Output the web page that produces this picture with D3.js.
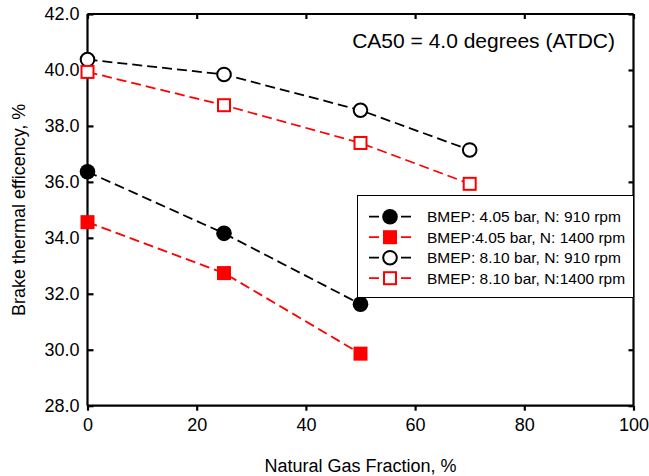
<!DOCTYPE html>
<html>
<head>
<meta charset="utf-8">
<script src="https://cdn.jsdelivr.net/npm/d3@7/dist/d3.min.js"></script>
<style>
  html, body { margin: 0; padding: 0; background: #fff; }
  svg { display: block; font-family: "Liberation Sans", Arial, sans-serif; }
</style>
</head>
<body>
<svg id="chart" width="649" height="476"></svg>
<script>
// ---- Data ----
const fractions = [0, 25, 50, 70];
const bmep405_910 = [36.36, 34.16, 31.63];
const bmep405_1400 = [34.56, 32.74, 29.86];
const bmep810_910 = [40.37, 39.84, 38.56, 37.14];
const bmep810_1400 = [39.93, 38.74, 37.39, 35.93];
const seriesNames = [
  "BMEP: 4.05 bar, N: 910 rpm",
  "BMEP:4.05 bar, N: 1400 rpm",
  "BMEP: 8.10 bar, N: 910 rpm",
  "BMEP: 8.10 bar, N:1400 rpm"
];
const xTicks = [0, 20, 40, 60, 80, 100];
const yTicks = [28, 30, 32, 34, 36, 38, 40, 42];
const titleText = "CA50 = 4.0 degrees (ATDC)";
const xTitle = "Natural Gas Fraction, %";
const yTitle = "Brake thermal efficency, %";

const series = [
  { name: seriesNames[0], values: bmep405_910, color: "#000", shape: "circle", filled: true },
  { name: seriesNames[1], values: bmep405_1400, color: "#ff0000", shape: "square", filled: true },
  { name: seriesNames[2], values: bmep810_910, color: "#000", shape: "circle", filled: false },
  { name: seriesNames[3], values: bmep810_1400, color: "#ff0000", shape: "square", filled: false }
];

// ---- Layout ----
const svg = d3.select("#chart");
const L = 87.5, R = 633.5, T = 14, B = 405.7;
const x = d3.scaleLinear().domain([0, 100]).range([L, R]);
const y = d3.scaleLinear().domain([28, 42]).range([B, T]);

const axisW = 2.2;

// Axes
const gx = svg.append("g").attr("transform", `translate(0,${B})`)
  .call(d3.axisBottom(x).tickValues(xTicks).tickSize(5).tickPadding(8).tickFormat(d3.format("d")));
const gy = svg.append("g").attr("transform", `translate(${L},0)`)
  .call(d3.axisLeft(y).tickValues(yTicks).tickSize(-6).tickPadding(10).tickFormat(d3.format(".1f")));
const gt = svg.append("g").attr("transform", `translate(0,${T})`)
  .call(d3.axisTop(x).tickValues(xTicks).tickSize(-5).tickFormat(""));
const gr = svg.append("g").attr("transform", `translate(${R},0)`)
  .call(d3.axisRight(y).tickValues(yTicks).tickSize(-5).tickFormat(""));

[gx, gy, gt, gr].forEach(g => {
  g.select(".domain").attr("stroke", "#000").attr("stroke-width", axisW);
  g.selectAll(".tick line").attr("stroke", "#000").attr("stroke-width", axisW);
  g.selectAll("text").attr("fill", "#000").style("font-size", "18px")
    .style("font-family", '"Liberation Sans", Arial, sans-serif');
});
gy.selectAll("text").attr("dx", "2");
gt.selectAll(".domain").attr("d", `M${L},0H${R}`);
gr.selectAll(".domain").attr("d", `M0,${B}V${T}`);
gx.selectAll(".domain").attr("d", `M${L},0H${R}`);
gy.selectAll(".domain").attr("d", `M0,${B}V${T}`);

// Titles
svg.append("text").attr("x", (L + R) / 2).attr("y", 472).attr("text-anchor", "middle")
  .style("font-size", "18px").text(xTitle);
svg.append("text").attr("transform", `translate(25,${(T + B) / 2}) rotate(-90)`)
  .attr("text-anchor", "middle").style("font-size", "18px").text(yTitle);
svg.append("text").attr("x", 615).attr("y", 48).attr("text-anchor", "end")
  .style("font-size", "21px").text(titleText);

// Lines and markers
const line = d3.line().x(d => x(d[0])).y(d => y(d[1]));
const rC = 7.8, sq = 14;

function drawMarker(g, cx, cy, s) {
  if (s.shape === "circle") {
    g.append("circle").attr("cx", cx).attr("cy", cy).attr("r", s.filled ? rC : rC - 1)
      .attr("fill", s.filled ? s.color : "#fff")
      .attr("stroke", s.color).attr("stroke-width", s.filled ? 0 : 2);
  } else {
    const a = s.filled ? sq : sq - 2;
    g.append("rect").attr("x", cx - a / 2).attr("y", cy - a / 2).attr("width", a).attr("height", a)
      .attr("fill", s.filled ? s.color : "#fff")
      .attr("stroke", s.color).attr("stroke-width", s.filled ? 0 : 2);
  }
}

series.forEach(s => {
  const pts = s.values.map((v, i) => [fractions[i], v]);
  svg.append("path").attr("d", line(pts)).attr("fill", "none")
    .attr("stroke", s.color).attr("stroke-width", 1.8).attr("stroke-dasharray", "10,5");
});
series.forEach(s => {
  const g = svg.append("g");
  s.values.forEach((v, i) => drawMarker(g, x(fractions[i]), y(v), s));
});

// Legend
const lg = svg.append("g");
lg.append("rect").attr("x", 357.5).attr("y", 195.5).attr("width", 276).attr("height", 102)
  .attr("fill", "#fff").attr("stroke", "#000").attr("stroke-width", 1);
const legY = [216.7, 237.2, 257.7, 278.2];
series.forEach((s, i) => {
  const yy = legY[i];
  lg.append("line").attr("x1", 369).attr("x2", 411).attr("y1", yy).attr("y2", yy)
    .attr("stroke", s.color).attr("stroke-width", 1.8).attr("stroke-dasharray", "10,22");
  drawMarker(lg, 390, yy, s);
  lg.append("text").attr("x", 427).attr("y", yy + 5.5).style("font-size", "15.5px").text(s.name);
});
</script>
</body>
</html>
